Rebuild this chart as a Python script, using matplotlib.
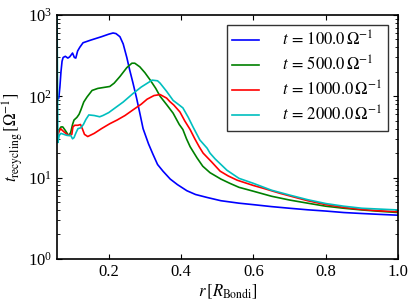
import numpy as np
import matplotlib
matplotlib.use('Agg')
import matplotlib.pyplot as plt

plt.rcParams['font.family'] = ['Liberation Serif', 'DejaVu Serif']
plt.rcParams['mathtext.fontset'] = 'stix'
plt.rcParams['xtick.direction'] = 'in'
plt.rcParams['ytick.direction'] = 'in'
plt.rcParams['xtick.top'] = True
plt.rcParams['ytick.right'] = True
plt.rcParams['axes.linewidth'] = 1.2

# t = 100 Omega^-1
r_100 = [0.057, 0.062, 0.065, 0.068, 0.071, 0.074, 0.08, 0.087, 0.092, 0.1, 0.105,
         0.109, 0.114, 0.12, 0.129, 0.15, 0.18, 0.2, 0.212, 0.22, 0.231, 0.24, 0.25,
         0.258, 0.267, 0.277, 0.286, 0.295, 0.31, 0.322, 0.335, 0.35, 0.37, 0.39,
         0.416, 0.44, 0.472, 0.51, 0.56, 0.6, 0.65, 0.7, 0.75, 0.8, 0.85, 0.9, 0.95, 1.0]
t_100 = [90, 95, 130, 200, 270, 300, 310, 295, 305, 340, 300,
         295, 360, 400, 455, 490, 540, 580, 600, 590, 540, 440, 300,
         210, 146, 95, 62, 40, 26, 19.5, 14.5, 12, 9.6, 8.2,
         6.9, 6.2, 5.7, 5.2, 4.85, 4.65, 4.4, 4.2, 4.02, 3.88, 3.72, 3.62, 3.53, 3.45]

# t = 500 Omega^-1
r_500 = [0.057, 0.062, 0.068, 0.073, 0.08, 0.087, 0.09, 0.095, 0.1, 0.104, 0.112,
         0.118, 0.123, 0.131, 0.14, 0.154, 0.17, 0.203, 0.215, 0.231, 0.25, 0.264,
         0.272, 0.286, 0.3, 0.314, 0.33, 0.342, 0.361, 0.378, 0.395, 0.405, 0.415,
         0.425, 0.444, 0.46, 0.48, 0.51, 0.535, 0.56, 0.6, 0.65, 0.7, 0.75, 0.8,
         0.85, 0.9, 0.95, 1.0]
t_500 = [36, 38, 42, 42, 38, 34, 33, 36, 45, 51, 55,
         60, 68, 85, 98, 118, 125, 132, 145, 175, 225, 255,
         255, 230, 195, 160, 125, 100, 78, 62, 45, 39, 30,
         24, 17.5, 13.8, 11.5, 9.6, 8.5, 7.6, 6.8, 5.9, 5.3, 4.85, 4.45,
         4.2, 4.0, 3.85, 3.72]

# t = 1000 Omega^-1
r_1000 = [0.057, 0.06, 0.063, 0.067, 0.072, 0.078, 0.085, 0.092, 0.098, 0.101, 0.106,
          0.115, 0.122, 0.127, 0.133, 0.142, 0.16, 0.18, 0.203, 0.223, 0.245, 0.267,
          0.29, 0.306, 0.325, 0.342, 0.36, 0.369, 0.38, 0.397, 0.41, 0.425, 0.438,
          0.45, 0.461, 0.485, 0.508, 0.53, 0.555, 0.6, 0.627, 0.674, 0.75, 0.8,
          0.85, 0.9, 0.95, 1.0]
t_1000 = [30, 34, 37, 40, 38, 36, 34, 33, 34, 42, 44,
          44, 45, 40, 34, 32, 35, 40, 46, 51, 58, 68,
          80, 92, 102, 105, 95, 86, 78, 64, 50, 39, 30,
          24, 20, 15.5, 12, 10.5, 9.3, 8.0, 7.4, 6.4, 5.2, 4.65,
          4.3, 4.05, 3.9, 3.8]

# t = 2000 Omega^-1
r_2000 = [0.057, 0.0595, 0.063, 0.068, 0.076, 0.085, 0.095, 0.1, 0.104, 0.11, 0.115,
          0.123, 0.13, 0.137, 0.145, 0.16, 0.175, 0.184, 0.2, 0.214, 0.24, 0.267,
          0.29, 0.31, 0.32, 0.335, 0.342, 0.36, 0.378, 0.395, 0.405, 0.42, 0.433,
          0.452, 0.472, 0.48, 0.494, 0.527, 0.56, 0.6, 0.65, 0.7, 0.75, 0.8,
          0.85, 0.9, 0.95, 1.0]
t_2000 = [1200, 27, 33, 35, 34, 33, 33, 30, 31, 36, 40,
          41, 45, 52, 59, 58, 56, 58, 63, 70, 85, 108,
          130, 148, 158, 155, 145, 115, 89, 78, 72, 55, 42,
          29, 23, 20, 17, 12.3, 9.8, 8.5, 7.0, 6.1, 5.35, 4.8,
          4.45, 4.2, 4.1, 4.0]

series = [(r_100, t_100, 'b', r'$t\,=\,100.0\,\Omega^{-1}$'),
          (r_500, t_500, 'g', r'$t\,=\,500.0\,\Omega^{-1}$'),
          (r_1000, t_1000, 'r', r'$t\,=\,1000.0\,\Omega^{-1}$'),
          (r_2000, t_2000, 'c', r'$t\,=\,2000.0\,\Omega^{-1}$')]

fig = plt.figure(figsize=(4.16, 3.05), dpi=100)
ax = fig.add_axes([0.137, 0.151, 0.82, 0.80])

for r, t, c, lab in series:
    ax.plot(r, t, color=c, lw=1.2, label=lab)

ax.set_yscale('log')
ax.set_xlim(0.057, 1.0)
ax.set_ylim(1, 1000)
ax.set_xticks([0.2, 0.4, 0.6, 0.8, 1.0])
ax.tick_params(labelsize=12)
ax.set_xlabel(r'$r\,[R_{\rm Bondi}]$', fontsize=12, labelpad=2)
ax.set_ylabel(r'$t_{\rm recycling}\,[\Omega^{-1}]$', fontsize=12, labelpad=2)

leg = ax.legend(loc='upper right', fontsize=12, fancybox=False, handlelength=1.6,
                handletextpad=1.4, labelspacing=0.35, borderpad=0.35,
                borderaxespad=0.6)
leg.get_frame().set_edgecolor('black')
leg.get_frame().set_linewidth(1.0)

fig.savefig('out.png', dpi=100)
